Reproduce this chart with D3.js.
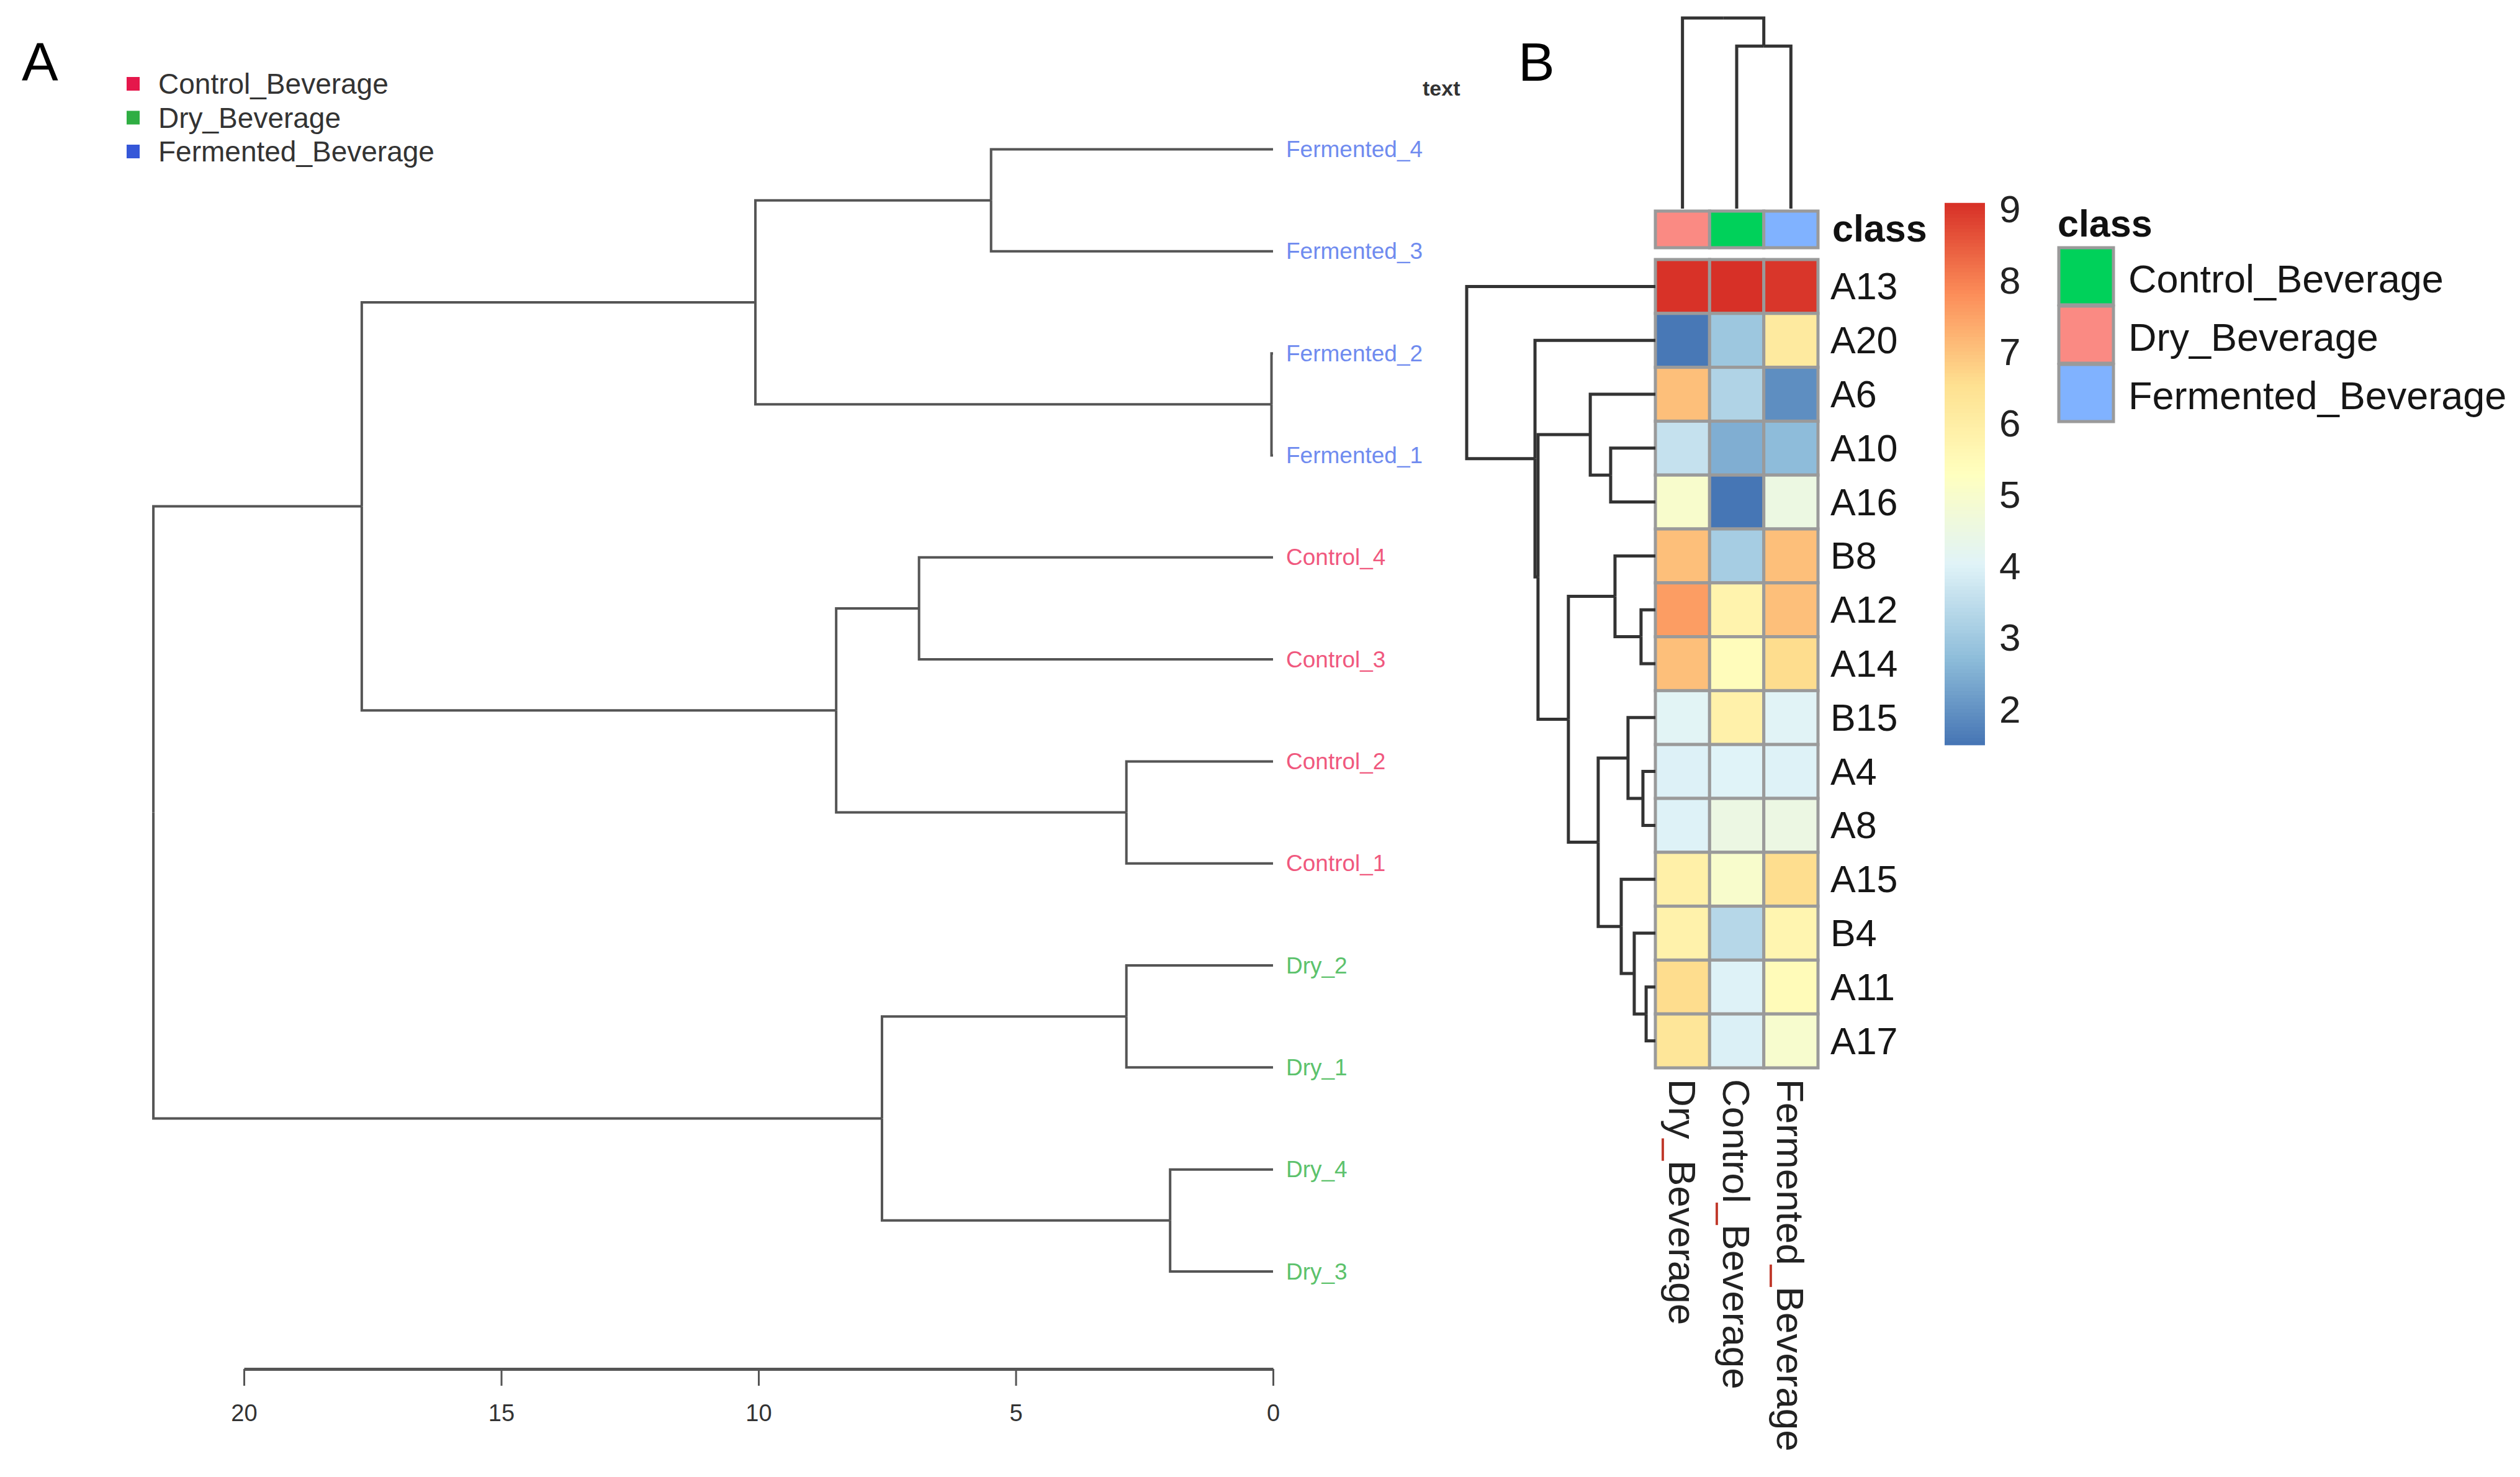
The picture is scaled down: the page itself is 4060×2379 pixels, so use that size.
<!DOCTYPE html>
<html>
<head>
<meta charset="utf-8">
<script src="https://cdn.jsdelivr.net/npm/d3@7"></script>
<style>
  body { margin: 0; background: #fff; }
  svg { display: block; }
  text { font-family: "Liberation Sans", Arial, sans-serif; }
</style>
</head>
<body>
<svg id="chart" width="4060" height="2379"></svg>
<script>
// Panel A: sample dendrogram
const sampleOrder = ['Fermented_4', 'Fermented_3', 'Fermented_2', 'Fermented_1',
  'Control_4', 'Control_3', 'Control_2', 'Control_1',
  'Dry_2', 'Dry_1', 'Dry_4', 'Dry_3'];
// [height, left, right] , leaves are names
const sampleTree = [21.76,
  [17.71,
    [10.06, [5.48, 'Fermented_4', 'Fermented_3'], [0.03, 'Fermented_2', 'Fermented_1']],
    [8.49, [6.88, 'Control_4', 'Control_3'], [2.85, 'Control_2', 'Control_1']]],
  [7.6, [2.85, 'Dry_2', 'Dry_1'], [2.0, 'Dry_4', 'Dry_3']]];
const groupNames = ['Control_Beverage', 'Dry_Beverage', 'Fermented_Beverage'];
const groupColors = ['#e5174b', '#2fae43', '#3557d8'];
const leafColors = { Control: '#f0587e', Dry: '#5cc26c', Fermented: '#6f8bef' };
const distTicks = [20, 15, 10, 5, 0];

// Panel B: heatmap
const features = ['A13', 'A20', 'A6', 'A10', 'A16', 'B8', 'A12', 'A14', 'B15', 'A4', 'A8', 'A15', 'B4', 'A11', 'A17'];
const columns = ['Dry_Beverage', 'Control_Beverage', 'Fermented_Beverage'];
const dryValues       = [9.05, 1.55, 7.05, 3.60, 5.00, 7.05, 7.58, 7.05, 4.10, 3.98, 4.00, 5.90, 5.83, 6.60, 6.30];
const controlValues   = [9.08, 2.95, 3.26, 2.48, 1.52, 3.10, 5.78, 5.40, 5.85, 4.02, 4.50, 5.00, 3.35, 4.00, 3.95];
const fermentedValues = [9.00, 6.15, 1.92, 2.72, 4.52, 7.05, 7.05, 6.60, 4.07, 4.00, 4.50, 6.58, 5.70, 5.45, 4.95];
const rowTree = [10, 'A13',
  [6.38, 'A20',
    [6.22,
      [3.45, 'A6', [2.37, 'A10', 'A16']],
      [4.61,
        [2.14, 'B8', [0.76, 'A12', 'A14']],
        [3.03,
          [1.45, 'B15', [0.66, 'A4', 'A8']],
          [1.81, 'A15', [1.12, 'B4', [0.49, 'A11', 'A17']]]]]]]];
const colTree = [10, 'Dry_Beverage', [8.53, 'Control_Beverage', 'Fermented_Beverage']];
const classNames = ['Control_Beverage', 'Dry_Beverage', 'Fermented_Beverage'];
const classColors = ['#00d15a', '#fa8a83', '#80b2ff'];
const columnClass = ['Dry_Beverage', 'Control_Beverage', 'Fermented_Beverage'];
const colorbarTicks = [2, 3, 4, 5, 6, 7, 8, 9];
const valueRange = [1.5, 9.08];
const rampColors = ['#4575B4', '#91BFDB', '#E0F3F8', '#FFFFBF', '#FEE090', '#FC8D59', '#D73027'];

const svg = d3.select('#chart');
svg.append('rect').attr('width', 4060).attr('height', 2379).attr('fill', '#fff');

// elbow links for a nested [h, a, b] tree
function treeLinks(tree, leafPos, hPos, horizontal) {
  const root = d3.hierarchy(tree, d => Array.isArray(d) ? d.slice(1) : null);
  root.eachAfter(n => {
    n.h = Array.isArray(n.data) ? n.data[0] : 0;
    n.p = n.children ? d3.mean(n.children, c => c.p) : leafPos(n.data);
  });
  return root.descendants().filter(n => n.parent).map(n => {
    const hp = hPos(n.parent.h), pp = n.parent.p, hc = hPos(n.h), cp = n.p;
    return horizontal ? `M${hp},${pp}V${cp}H${hc}` : `M${pp},${hp}H${cp}V${hc}`;
  });
}

// ---------- Panel A ----------
svg.append('text').attr('x', 35).attr('y', 130).attr('font-size', 88).attr('fill', '#000').text('A');
svg.append('text').attr('x', 2446).attr('y', 130).attr('font-size', 88).attr('fill', '#000').text('B');

const distX = d3.scaleLinear().domain([0, 20]).range([2051, 393]);
const leafY = d3.scalePoint().domain(sampleOrder).range([240.5, 2048]);

svg.append('g').selectAll('path')
  .data(treeLinks(sampleTree, d => leafY(d), h => distX(h), true))
  .join('path')
  .attr('d', d => d)
  .attr('fill', 'none')
  .attr('stroke', '#555')
  .attr('stroke-width', 4);

svg.append('g').selectAll('text')
  .data(sampleOrder)
  .join('text')
  .attr('x', 2072)
  .attr('y', d => leafY(d))
  .attr('dominant-baseline', 'central')
  .attr('font-size', 37)
  .attr('fill', d => leafColors[d.split('_')[0]])
  .text(d => d);

const legA = svg.append('g').selectAll('g')
  .data(groupNames)
  .join('g')
  .attr('transform', (d, i) => `translate(204,${135 + i * 54.5})`);
legA.append('rect').attr('x', 0).attr('y', -11).attr('width', 21).attr('height', 22)
  .attr('fill', (d, i) => groupColors[i]);
legA.append('text').attr('x', 51).attr('y', 0).attr('dominant-baseline', 'central')
  .attr('font-size', 46).attr('fill', '#333').text(d => d);

svg.append('text').attr('x', 2292).attr('y', 154).attr('font-size', 34)
  .attr('font-weight', 'bold').attr('fill', '#333').text('text');

const axisA = svg.append('g')
  .attr('transform', 'translate(0,2205)')
  .call(d3.axisBottom(distX).tickValues(distTicks).tickSize(27).tickSizeOuter(0).tickPadding(30));
axisA.select('.domain').attr('stroke', '#555').attr('stroke-width', 5);
axisA.selectAll('.tick line').attr('stroke', '#555').attr('stroke-width', 3);
axisA.selectAll('.tick text').attr('font-size', 38).attr('fill', '#333')
  .attr('font-family', '"Liberation Sans", Arial, sans-serif');

// ---------- Panel B ----------
const rowY = d3.scaleBand().domain(features).range([418, 1720]);
const colX = d3.scaleBand().domain(columns).range([2667, 2929]);
const color = d3.scaleLinear()
  .domain(rampColors.map((c, i) => valueRange[0] + i * (valueRange[1] - valueRange[0]) / 6))
  .range(rampColors);

const series = [dryValues, controlValues, fermentedValues];
const cells = [];
columns.forEach((c, j) => features.forEach((f, i) => cells.push({ row: f, col: c, v: series[j][i] })));

svg.append('g').selectAll('rect')
  .data(cells)
  .join('rect')
  .attr('x', d => colX(d.col))
  .attr('y', d => rowY(d.row))
  .attr('width', colX.bandwidth())
  .attr('height', rowY.bandwidth())
  .attr('fill', d => color(d.v))
  .attr('stroke', '#9a9a9a')
  .attr('stroke-width', 5);

// class annotation bar
svg.append('g').selectAll('rect')
  .data(columns)
  .join('rect')
  .attr('x', d => colX(d))
  .attr('y', 340)
  .attr('width', colX.bandwidth())
  .attr('height', 59)
  .attr('fill', (d, j) => classColors[classNames.indexOf(columnClass[j])])
  .attr('stroke', '#9a9a9a')
  .attr('stroke-width', 5);
svg.append('text').attr('x', 2952).attr('y', 389).attr('font-size', 61)
  .attr('font-weight', 'bold').attr('fill', '#111').text('class');

// row dendrogram
const rowH = d3.scaleLinear().domain([0, 10]).range([2667, 2363]);
svg.append('g').selectAll('path')
  .data(treeLinks(rowTree, d => rowY(d) + rowY.bandwidth() / 2, h => rowH(h), true))
  .join('path')
  .attr('d', d => d)
  .attr('fill', 'none')
  .attr('stroke', '#333')
  .attr('stroke-width', 5);

// column dendrogram
const colH = d3.scaleLinear().domain([0, 10]).range([336, 29]);
svg.append('g').selectAll('path')
  .data(treeLinks(colTree, d => colX(d) + colX.bandwidth() / 2, h => colH(h), false))
  .join('path')
  .attr('d', d => d)
  .attr('fill', 'none')
  .attr('stroke', '#333')
  .attr('stroke-width', 5);

// row labels
svg.append('g').selectAll('text')
  .data(features)
  .join('text')
  .attr('x', 2949)
  .attr('y', d => rowY(d) + rowY.bandwidth() / 2)
  .attr('dominant-baseline', 'central')
  .attr('font-size', 61)
  .attr('fill', '#161616')
  .text(d => d);

// column labels, rotated
const colLab = svg.append('g').selectAll('text')
  .data(columns)
  .join('text')
  .attr('transform', d => `translate(${colX(d) + colX.bandwidth() / 2},1738) rotate(90)`)
  .attr('dominant-baseline', 'central')
  .attr('font-size', 62)
  .attr('fill', '#222');
colLab.each(function (d) {
  const parts = d.split('_');
  const t = d3.select(this);
  t.append('tspan').text(parts[0]);
  t.append('tspan').attr('fill', '#c0392b').text('_');
  t.append('tspan').text(parts[1]);
});

// colour bar
const cbY = d3.scaleLinear().domain([9, 2]).range([336, 1142]);
const slices = d3.range(0, 150).map(i => valueRange[0] + (i + 0.5) * (valueRange[1] - valueRange[0]) / 150);
const sliceH = Math.abs(cbY(0) - cbY((valueRange[1] - valueRange[0]) / 150));
svg.append('g').selectAll('rect')
  .data(slices)
  .join('rect')
  .attr('x', 3133)
  .attr('y', d => cbY(d) - sliceH / 2)
  .attr('width', 65)
  .attr('height', sliceH + 0.8)
  .attr('fill', d => color(d));
svg.append('g').selectAll('text')
  .data(colorbarTicks)
  .join('text')
  .attr('x', 3221)
  .attr('y', d => cbY(d))
  .attr('dominant-baseline', 'central')
  .attr('font-size', 62)
  .attr('fill', '#222')
  .text(d => d);

// class legend
svg.append('text').attr('x', 3315).attr('y', 381).attr('font-size', 61)
  .attr('font-weight', 'bold').attr('fill', '#111').text('class');
const legB = svg.append('g').selectAll('g')
  .data(classNames)
  .join('g')
  .attr('transform', (d, i) => `translate(3317,${399 + i * 94})`);
legB.append('rect').attr('width', 88).attr('height', 92)
  .attr('fill', (d, i) => classColors[i])
  .attr('stroke', '#9a9a9a').attr('stroke-width', 5);
legB.append('text').attr('x', 112).attr('y', 50).attr('dominant-baseline', 'central')
  .attr('font-size', 63).attr('fill', '#161616').text(d => d);
</script>
</body>
</html>
